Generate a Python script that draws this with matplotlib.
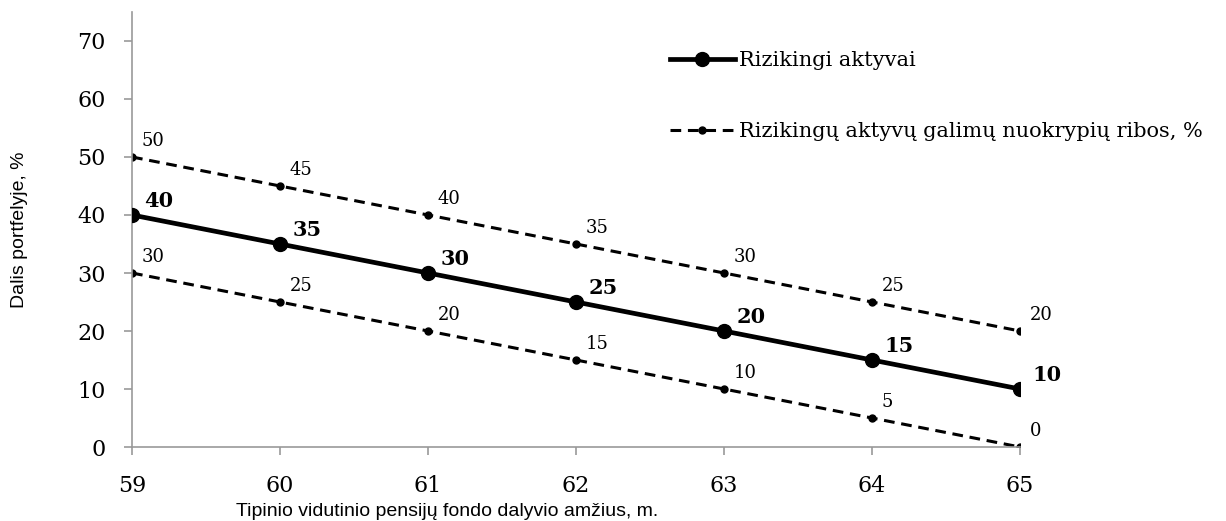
import matplotlib.pyplot as plt

amzius = [59, 60, 61, 62, 63, 64, 65]
rizikingi = [40, 35, 30, 25, 20, 15, 10]
virsutine = [50, 45, 40, 35, 30, 25, 20]
apatine = [30, 25, 20, 15, 10, 5, 0]
y_ticks = [0, 10, 20, 30, 40, 50, 60, 70]

serif = 'DejaVu Serif'
sans = 'Liberation Sans'

fig = plt.figure(figsize=(12.26, 5.21), dpi=100)
ax = fig.add_axes([0.1077, 0.142, 0.7243, 0.835])

ax.plot(amzius, rizikingi, color='black', lw=3.4, marker='o', ms=10,
        label='Rizikingi aktyvai', zorder=3)
ax.plot(amzius, virsutine, color='black', lw=2.2, ls=(0, (3.5, 2.2)), marker='o', ms=5,
        label='Rizikingų aktyvų galimų nuokrypių ribos, %', zorder=2)
ax.plot(amzius, apatine, color='black', lw=2.2, ls=(0, (3.5, 2.2)), marker='o', ms=5,
        zorder=2)

# duomenu zymes
for x, y in zip(amzius, rizikingi):
    ax.annotate(str(y), (x, y), xytext=(9, 3), textcoords='offset points',
                fontsize=15, fontweight='bold', family=serif, ha='left', va='bottom')
for x, y in zip(amzius, virsutine):
    ax.annotate(str(y), (x, y), xytext=(7, 5), textcoords='offset points',
                fontsize=13, family=serif, ha='left', va='bottom')
for x, y in zip(amzius, apatine):
    ax.annotate(str(y), (x, y), xytext=(7, 5), textcoords='offset points',
                fontsize=13, family=serif, ha='left', va='bottom')

ax.set_xlim(59, 65)
ax.set_ylim(0, 75)
ax.set_xticks(amzius)
ax.set_yticks(y_ticks)
for lab in ax.get_xticklabels() + ax.get_yticklabels():
    lab.set_family(serif)
    lab.set_fontsize(16)

for s in ['top', 'right']:
    ax.spines[s].set_visible(False)
for s in ['left', 'bottom']:
    ax.spines[s].set_color('#999999')
    ax.spines[s].set_linewidth(1.2)
ax.tick_params(color='#999999', length=6, width=1.2)
ax.tick_params(axis='x', pad=14)
ax.tick_params(axis='y', pad=13)

ax.set_ylabel('Dalis portfelyje, %', family=sans, fontsize=14)
ax.yaxis.set_label_coords(-0.117, 0.5)
ax.set_xlabel('Tipinio vidutinio pensijų fondo dalyvio amžius, m.', family=sans, fontsize=14)
ax.xaxis.set_label_coords(0.355, -0.128)

ax.legend(loc='upper left', bbox_to_anchor=(0.606, 0.91), frameon=False,
          prop={'family': serif, 'size': 15}, labelspacing=2.5, borderpad=0,
          borderaxespad=0, handlelength=3.1, handletextpad=0.2)

fig.savefig('out.png', dpi=100)
